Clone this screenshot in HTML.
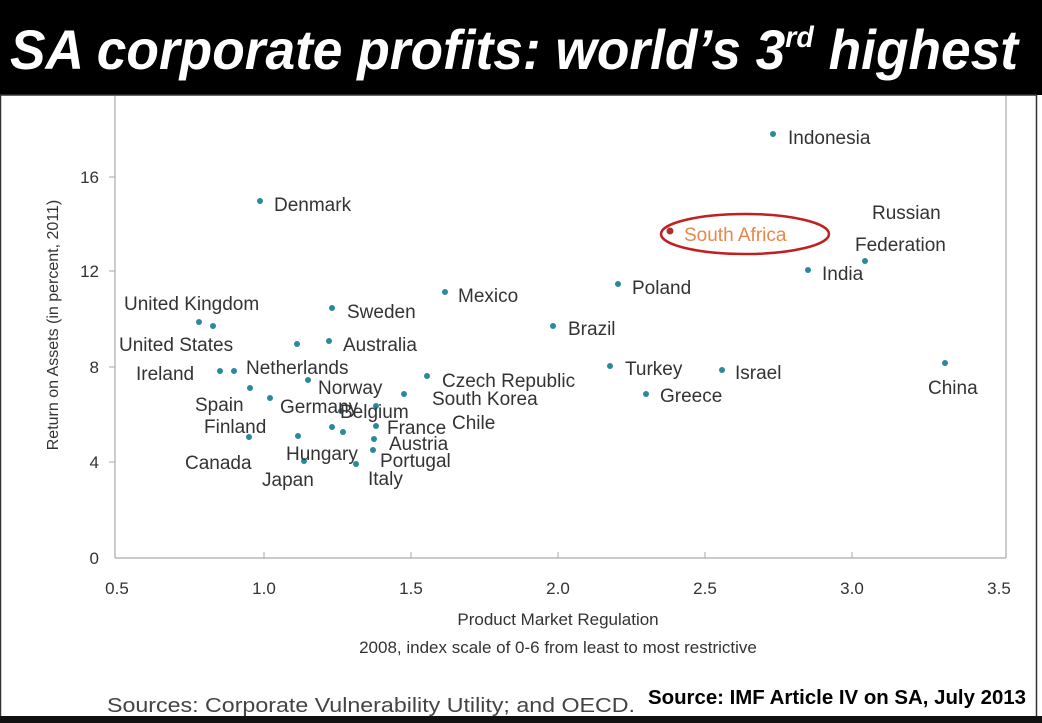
<!DOCTYPE html>
<html><head><meta charset="utf-8"><style>
html,body{margin:0;padding:0;background:#fff;}
body{width:1042px;height:723px;position:relative;overflow:hidden;font-family:"Liberation Sans",sans-serif;}
svg{position:absolute;left:0;top:0;}
</style></head><body>
<svg width="1042" height="723" viewBox="0 0 1042 723" font-family="Liberation Sans, sans-serif">
<rect x="0" y="0" width="1042" height="723" fill="#fff"/>
<rect x="0" y="0" width="1042" height="95" fill="#000"/>
<text x="10" y="69" fill="#fff" font-size="56" font-weight="bold" font-style="italic" font-family="Liberation Sans Narrow, Liberation Sans, sans-serif" textLength="1008" lengthAdjust="spacingAndGlyphs">SA corporate profits: world’s 3<tspan font-size="30" dy="-22">rd</tspan><tspan dy="22"> highest</tspan></text>
<rect x="0.5" y="95" width="1036" height="627" fill="none" stroke="#333" stroke-width="1.5"/>
<rect x="0" y="716" width="1042" height="7" fill="#111"/>
<g stroke="#aaa" stroke-width="1.2" fill="none">
<line x1="115" y1="96" x2="115" y2="558"/>
<line x1="115" y1="558" x2="1006" y2="558"/>
<line x1="1006" y1="96" x2="1006" y2="558"/>
</g>
<g stroke="#aaa" stroke-width="1">
<line x1="109" y1="177" x2="115" y2="177"/><line x1="109" y1="271" x2="115" y2="271"/>
<line x1="109" y1="367" x2="115" y2="367"/><line x1="109" y1="462" x2="115" y2="462"/>
<line x1="264" y1="552" x2="264" y2="558"/><line x1="411" y1="552" x2="411" y2="558"/>
<line x1="558" y1="552" x2="558" y2="558"/><line x1="705" y1="552" x2="705" y2="558"/>
<line x1="852" y1="552" x2="852" y2="558"/>
</g>
<g font-size="17" fill="#333" text-anchor="end">
<text x="99" y="183">16</text><text x="99" y="277">12</text><text x="99" y="373">8</text><text x="99" y="468">4</text><text x="99" y="564">0</text>
</g>
<g font-size="17" fill="#333" text-anchor="middle">
<text x="117" y="594">0.5</text><text x="264" y="594">1.0</text><text x="411" y="594">1.5</text><text x="558" y="594">2.0</text><text x="705" y="594">2.5</text><text x="852" y="594">3.0</text><text x="999" y="594">3.5</text>
<text x="558" y="625" font-size="17">Product Market Regulation</text>
<text x="558" y="653" font-size="17">2008, index scale of 0-6 from least to most restrictive</text>
</g>
<text transform="translate(58,325) rotate(-90)" font-size="16" fill="#333" text-anchor="middle">Return on Assets  (in percent, 2011)</text>
<g fill="#2a8a9a">
<circle cx="773" cy="134" r="3"/><circle cx="260" cy="201" r="3"/><circle cx="865" cy="261" r="3"/>
<circle cx="808" cy="270" r="3"/><circle cx="618" cy="284" r="3"/><circle cx="445" cy="292" r="3"/>
<circle cx="553" cy="326" r="3"/><circle cx="332" cy="308" r="3"/><circle cx="199" cy="322" r="3"/>
<circle cx="213" cy="326" r="3"/><circle cx="297" cy="344" r="3"/><circle cx="329" cy="341" r="3"/>
<circle cx="220" cy="371" r="3"/><circle cx="234" cy="371" r="3"/><circle cx="308" cy="380" r="3"/>
<circle cx="427" cy="376" r="3"/><circle cx="404" cy="394" r="3"/><circle cx="610" cy="366" r="3"/>
<circle cx="722" cy="370" r="3"/><circle cx="945" cy="363" r="3"/><circle cx="646" cy="394" r="3"/>
<circle cx="250" cy="388" r="3"/><circle cx="270" cy="398" r="3"/><circle cx="341" cy="411" r="3"/>
<circle cx="376" cy="406" r="3"/><circle cx="332" cy="427" r="3"/><circle cx="343" cy="432" r="3"/>
<circle cx="376" cy="426" r="3"/><circle cx="374" cy="439" r="3"/><circle cx="298" cy="436" r="3"/>
<circle cx="249" cy="437" r="3"/><circle cx="304" cy="461" r="3"/><circle cx="356" cy="464" r="3"/>
<circle cx="373" cy="450" r="3"/>
</g>
<circle cx="670" cy="231" r="3.5" fill="#b03030"/>
<ellipse cx="745" cy="234" rx="84" ry="20" fill="none" stroke="#c02020" stroke-width="2.5"/>
<g font-size="19" fill="#333">
<text x="788" y="144">Indonesia</text><text x="274" y="211">Denmark</text>
<text x="684" y="241" fill="#e8874a">South Africa</text>
<text x="872" y="219">Russian</text><text x="855" y="251">Federation</text>
<text x="822" y="280">India</text><text x="632" y="294">Poland</text><text x="458" y="302">Mexico</text>
<text x="568" y="335">Brazil</text><text x="347" y="318">Sweden</text><text x="124" y="310">United Kingdom</text>
<text x="119" y="351">United States</text><text x="343" y="351">Australia</text>
<text x="246" y="374">Netherlands</text><text x="136" y="380">Ireland</text>
<text x="318" y="394">Norway</text><text x="442" y="387">Czech Republic</text><text x="432" y="405">South Korea</text>
<text x="625" y="375">Turkey</text><text x="735" y="379">Israel</text><text x="928" y="394">China</text>
<text x="660" y="402">Greece</text><text x="195" y="411">Spain</text><text x="280" y="413">Germany</text>
<text x="340" y="418">Belgium</text><text x="452" y="429">Chile</text><text x="204" y="433">Finland</text>
<text x="387" y="434">France</text><text x="389" y="450">Austria</text><text x="286" y="460">Hungary</text>
<text x="380" y="467">Portugal</text><text x="185" y="469">Canada</text><text x="262" y="486">Japan</text>
<text x="368" y="485">Italy</text>
</g>
<text x="107" y="712" font-size="20" fill="#444" textLength="528" lengthAdjust="spacingAndGlyphs">Sources: Corporate  Vulnerability Utility; and OECD.</text>
<text x="648" y="704" font-size="20" font-weight="bold" fill="#000" font-family="Liberation Sans Narrow, Liberation Sans, sans-serif" textLength="378" lengthAdjust="spacingAndGlyphs">Source: IMF Article IV on SA, July 2013</text>
</svg>
</body></html>
